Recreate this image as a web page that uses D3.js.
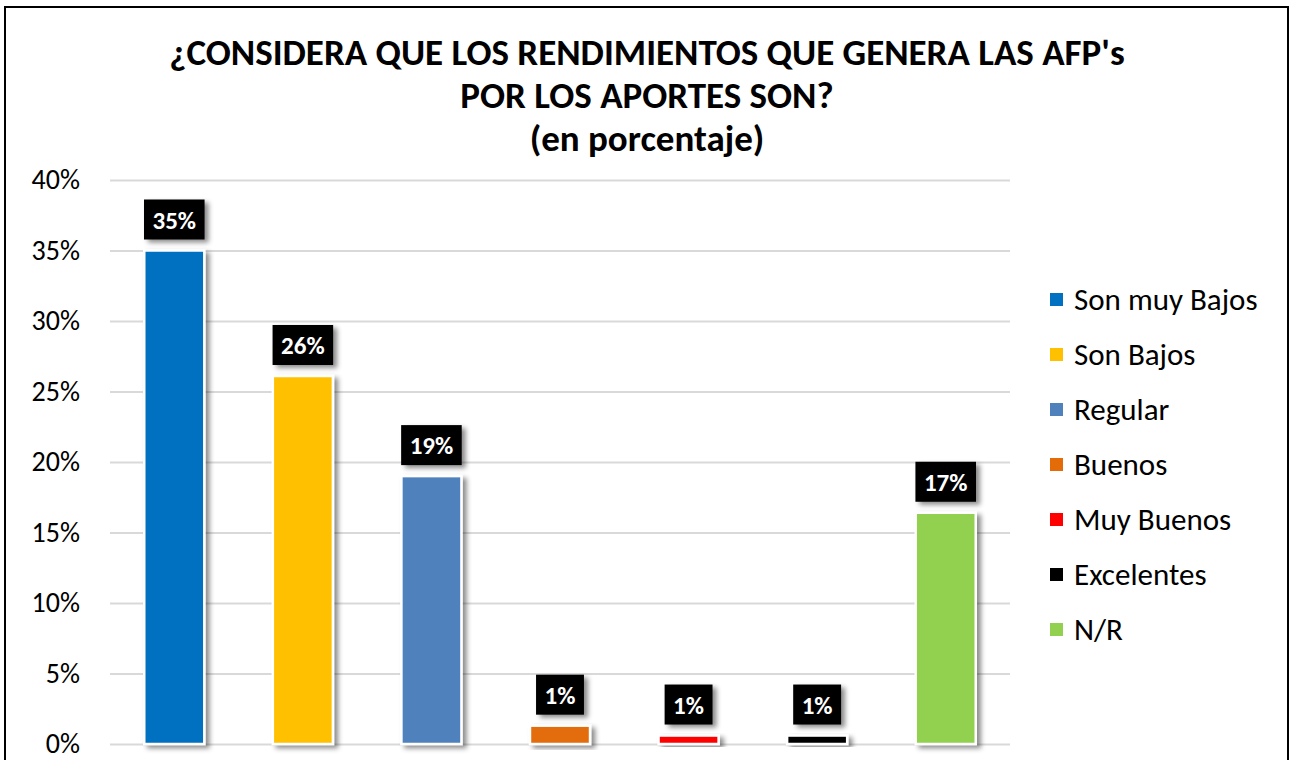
<!DOCTYPE html>
<html>
<head>
<meta charset="utf-8">
<script src="https://d3js.org/d3.v7.min.js"></script>
<style>
  body { margin: 0; background: #fff; }
  text { font-family: Calibri, Carlito, Lato, sans-serif; }
</style>
</head>
<body>
<div id="chart"></div>
<script>
    // data
    const categories = ["Son muy Bajos", "Son Bajos", "Regular", "Buenos", "Muy Buenos", "Excelentes", "N/R"];
    const values = [0.35, 0.261, 0.19, 0.013, 0.006, 0.006, 0.164];
    const labels = ["35%", "26%", "19%", "1%", "1%", "1%", "17%"];
    const colors = ["#0070C0", "#FFC000", "#4F81BD", "#E36C09", "#FF0000", "#000000", "#92D050"];
    const yTicks = [0, 0.05, 0.10, 0.15, 0.20, 0.25, 0.30, 0.35, 0.40];
    const titleLines = ["¿CONSIDERA QUE LOS RENDIMIENTOS QUE GENERA LAS AFP's", "POR LOS APORTES SON?", "(en porcentaje)"];

    const W = 1292, H = 760;
    const plot = {left: 110, right: 1010, top: 180, bottom: 744};

    const svg = d3.select("#chart").append("svg")
        .attr("width", W)
        .attr("height", H);

    const defs = svg.append("defs");
    const f = defs.append("filter").attr("id", "shadow")
        .attr("x", "-30%").attr("y", "-30%").attr("width", "160%").attr("height", "160%");
    f.append("feDropShadow")
        .attr("dx", 4).attr("dy", 3)
        .attr("stdDeviation", 2.5)
        .attr("flood-color", "#000")
        .attr("flood-opacity", 0.45);

    svg.append("rect")
        .attr("x", 0).attr("y", 0).attr("width", W).attr("height", H)
        .attr("fill", "#fff");

    // chart border
    svg.append("rect")
        .attr("x", 5).attr("y", 7)
        .attr("width", 1283).attr("height", 800)
        .attr("fill", "none")
        .attr("stroke", "#000")
        .attr("stroke-width", 2);

    // title
    svg.append("g").selectAll("text")
        .data(titleLines)
        .join("text")
        .attr("x", 647)
        .attr("y", (d, i) => 65 + i * 43)
        .attr("text-anchor", "middle")
        .attr("font-size", 37)
        .attr("font-weight", "bold")
        .attr("fill", "#000")
        .text(d => d);

    const x = d3.scaleBand()
        .domain(categories)
        .range([plot.left, plot.right])
        .paddingInner(0.533)
        .paddingOuter(0.2665);

    const y = d3.scaleLinear()
        .domain([0, 0.4])
        .range([plot.bottom, plot.top]);

    // gridlines + y labels
    const yAxis = svg.append("g")
        .attr("transform", "translate(" + plot.left + ",0)")
        .call(d3.axisLeft(y).tickValues(yTicks).tickFormat(d3.format(".0%"))
            .tickSize(-(plot.right - plot.left)).tickPadding(30));
    yAxis.select(".domain").remove();
    yAxis.selectAll(".tick line").attr("stroke", "#d9d9d9").attr("stroke-width", 2);
    yAxis.selectAll(".tick text")
        .attr("font-size", 28)
        .attr("fill", "#000")
        .style("font-family", "Calibri, Carlito, Lato, sans-serif");

    // bars
    svg.append("g").selectAll("rect")
        .data(values)
        .join("rect")
        .attr("x", (d, i) => x(categories[i]))
        .attr("y", d => y(d))
        .attr("width", x.bandwidth())
        .attr("height", d => y(0) - y(d))
        .attr("fill", (d, i) => colors[i])
        .attr("stroke", "#fff")
        .attr("stroke-width", 2.5)
        .attr("filter", "url(#shadow)");

    // data labels
    const lab = svg.append("g").selectAll("g")
        .data(values)
        .join("g")
        .attr("transform", (d, i) => "translate(" + (x(categories[i]) + x.bandwidth() / 2) + "," + (y(d) - 11) + ")");

    lab.append("text")
        .attr("x", 0)
        .attr("y", -11)
        .attr("text-anchor", "middle")
        .attr("font-size", 25)
        .attr("font-weight", "bold")
        .attr("fill", "#fff")
        .text((d, i) => labels[i]);

    lab.each(function() {
        const g = d3.select(this);
        const w = g.select("text").node().getComputedTextLength() + 17;
        g.insert("rect", "text")
            .attr("x", -w / 2)
            .attr("y", -40)
            .attr("width", w)
            .attr("height", 40)
            .attr("fill", "#000")
            .attr("filter", "url(#shadow)");
    });

    // legend
    const leg = svg.append("g").selectAll("g")
        .data(categories)
        .join("g")
        .attr("transform", (d, i) => "translate(1050," + (300 + i * 55) + ")");

    leg.append("rect")
        .attr("x", 0).attr("y", -7)
        .attr("width", 13).attr("height", 13)
        .attr("fill", (d, i) => colors[i]);

    leg.append("text")
        .attr("x", 24)
        .attr("y", 10)
        .attr("font-size", 31)
        .attr("fill", "#000")
        .text(d => d);
</script>
</body>
</html>
